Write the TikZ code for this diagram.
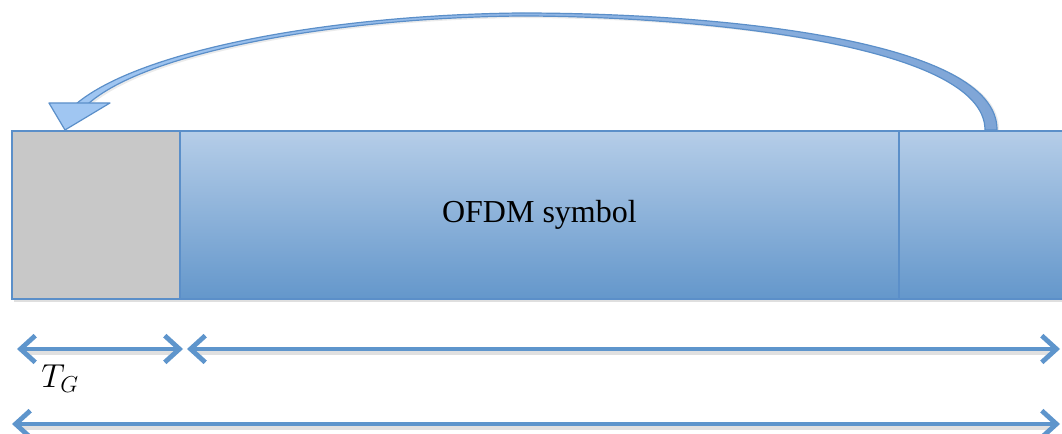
\documentclass[tikz,border=0pt]{standalone}
\usepackage{fontspec}
\setmainfont{Liberation Serif}
\usetikzlibrary{arrows.meta,shadows,calc}
\definecolor{bord}{HTML}{5B8FC9}
\definecolor{topb}{HTML}{B5CDE8}
\definecolor{botb}{HTML}{6497CB}
\definecolor{grayf}{HTML}{C8C8C8}
\definecolor{arr}{HTML}{5E95CC}
\definecolor{headf}{HTML}{A0C6F2}
\definecolor{bandf}{HTML}{7FA5D6}
\tikzset{
  blk/.style={draw=bord, line width=1.4pt, inner sep=0pt, anchor=north west,
    drop shadow={shadow xshift=1.5pt, shadow yshift=-2pt, opacity=0.25}},
  blueblk/.style={blk, top color=topb, bottom color=botb},
  grayblk/.style={blk, fill=grayf},
  dim/.style={draw=arr, line width=3.6pt, line cap=round,
    arrows={Straight Barb[length=11pt,width=20pt,line width=3.6pt]-Straight Barb[length=11pt,width=20pt,line width=3.6pt]}},
  dimshadow/.style={draw=black, opacity=0.12, line width=4pt},
  bandstyle/.style={draw=bord, line width=0.9pt, line join=round, left color=headf, right color=bandf},
  headstyle/.style={draw=bord, line width=0.9pt, line join=round, fill=headf}
}
\begin{document}
\begin{tikzpicture}[x=0.75pt,y=-0.75pt]
\useasboundingbox (0,0) rectangle (1062,434);
% blocks
\node[grayblk, minimum width=126pt, minimum height=126pt] (gi) at (11,130) {};
\node[blueblk, minimum width=539.25pt, minimum height=126pt, font=\fontsize{24}{28}\selectfont] (sym) at (179,130) {OFDM symbol};
\node[blueblk, minimum width=135pt, minimum height=126pt] (tail) at (898,130) {};
% curved arrow from tail back to guard interval
\coordinate (s1) at ($(tail.north west)+(87,0)$);
\coordinate (s2) at ($(tail.north west)+(99,0)$);
\coordinate (tip) at ($(gi.north west)+(54,0)$);
\fill[black, opacity=0.08] ($(s2)+(2,0)$) .. controls (1001,40) and (720,15) .. (522,15)
   .. controls (332,17) and (142,52) .. (79,106) -- (90,106)
   .. controls (147,55) and (332,20) .. (522,18) .. controls (700,18) and (987,45) .. ($(s1)+(2,0)$) -- cycle;
\path[bandstyle] (s2) .. controls (998,40) and (720,13) .. (520,13)
   .. controls (330,15) and (140,50) .. (76,104)
   -- (88,104)
   .. controls (145,53) and (330,18) .. (520,16)
   .. controls (700,16) and (985,45) .. (s1) -- cycle;
\path[headstyle] (49,103) -- (tip) -- (110,103) -- cycle;
% dimension arrows
\coordinate (a1) at (17,349);
\coordinate (a2) at (183,349);
\coordinate (b1) at (187,349);
\coordinate (b2) at (1060,349);
\coordinate (c1) at (12,424);
\coordinate (c2) at (1060,424);
\draw[dimshadow] ($(a1)+(8,3)$) -- ($(a2)+(-8,3)$);
\draw[dimshadow] ($(b1)+(8,3)$) -- ($(b2)+(-8,3)$);
\draw[dimshadow] ($(c1)+(8,3)$) -- ($(c2)+(-8,3)$);
\draw[dim] (a1) -- (a2);
\draw[dim] (b1) -- (b2);
\draw[dim] (c1) -- (c2);
\node[font=\fontsize{26}{30}\selectfont] (tg) at (60,379) {$T_G$};
\end{tikzpicture}
\end{document}
